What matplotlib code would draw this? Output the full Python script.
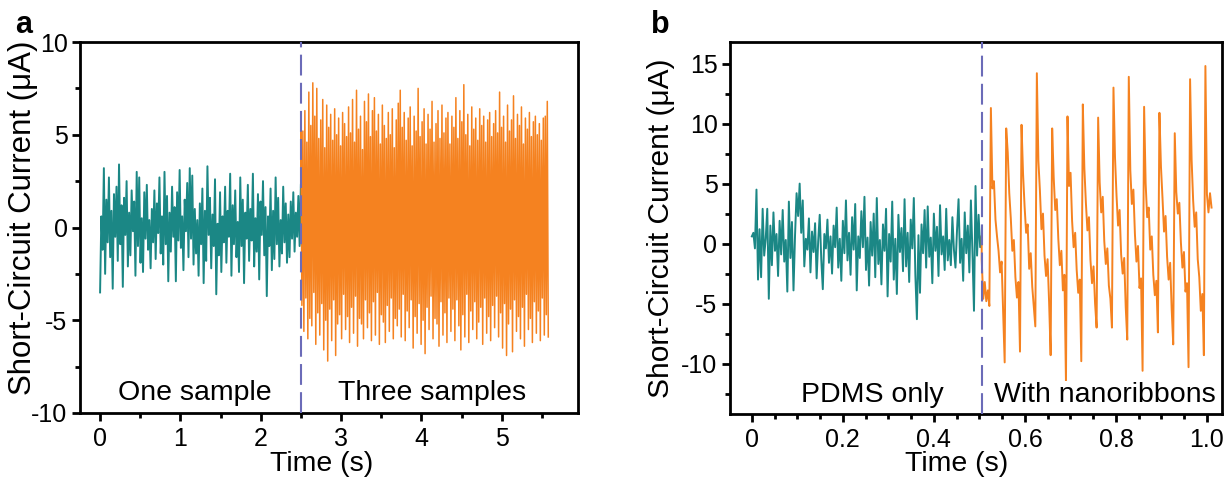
"""
Short-circuit current traces: (a) one vs three samples, (b) PDMS vs nanoribbons.
Writes out.png (1230x479).
"""
import numpy as np
import matplotlib

matplotlib.use("Agg")
import matplotlib.pyplot as plt
from matplotlib.ticker import MultipleLocator


# ---------------------------------------------------------------------------
# Data (uA)
# ---------------------------------------------------------------------------

# panel a, 0 - 2.5 s
A_ONE = [
    -3.5, 0.6, -1.2, 3.2, -2.5, 1.5, -0.8, 2.7, -1.6, 0.9,
    -3.3, 1.8, -0.5, 2.2, -1.8, 3.4, -0.9, 1.2, -3.2, 1.6,
    -0.4, 2.5, -2.1, 0.8, -1.5, 2.0, -0.2, 1.4, -2.6, 3.0,
    -1.0, 2.7, -1.9, 0.5, -2.4, 1.9, -0.6, 2.3, -1.2, 0.4,
    -2.2, 1.0, -0.8, 2.0, -1.7, 1.3, -0.3, 2.7, -1.4, 0.6,
    -2.0, 3.0, -0.9, 1.7, -2.9, 0.8, -1.3, 2.2, -0.5, 1.1,
    -2.9, 1.9, -0.7, 3.1, -1.1, 0.6, -2.3, 1.5, -0.2, 2.4,
    -1.6, 3.2, -0.6, 2.8, -2.0, 1.0, -1.4, 0.4, -2.6, 1.3,
    -0.9, 2.1, -3.0, 0.9, -1.8, 3.3, -0.4, 1.6, -2.2, 0.7,
    -1.0, 2.6, -3.6, 0.2, -1.5, 1.9, -2.4, 0.6, -0.8, 2.2,
    -1.9, 0.9, -0.5, 2.9, -2.6, 1.2, -0.9, 2.0, -1.6, 0.3,
    -2.4, 2.7, -1.0, 1.5, -3.0, 0.8, -0.6, 2.3, -1.8, 1.0,
    -0.7, 2.9, -2.1, 0.5, -1.3, 1.8, -2.8, 1.4, -0.4, 2.5,
    -1.5, 1.1, -3.7, 0.6, -1.0, 2.1, -2.3, 0.9, -1.7, 2.7,
    -0.9, 1.6, -2.1, 0.4, -1.4, 2.2, -0.8, 1.3, -1.9, 0.7,
    -1.6, 1.4, -0.6, 1.9, -1.3, 0.8, -0.5, 1.7, -1.0, 2.3,
]

# panel a, 2.5 - 5.58 s: alternating peaks and troughs
A_THREE_PEAKS = [
    6.1, 5.2, 6.3, 4.6, 7.3, 5.5, 7.8, 6.0, 7.5, 4.8, 5.8, 6.9, 4.3, 6.6, 5.4, 6.1, 4.7, 6.4, 5.0, 5.9, 4.4, 6.2, 5.6, 4.9, 6.5,
    5.1, 6.9, 4.6, 7.4, 5.3, 6.0, 4.2, 6.8, 5.7, 7.2, 4.9, 6.3, 7.0, 5.2, 6.1, 4.5, 6.6, 5.5, 4.8, 6.2, 5.0, 6.4, 4.3, 5.8, 6.7,
    7.4, 5.4, 6.2, 4.7, 5.9, 6.5, 4.4, 6.0, 5.2, 7.5, 4.9, 5.7, 6.4, 4.5, 6.1, 5.3, 6.8, 4.6, 5.6, 6.3, 4.8, 6.6, 5.1, 5.9, 6.2,
    4.5, 6.0, 5.4, 7.0, 4.8, 6.3, 5.7, 7.7, 5.0, 6.1, 4.4, 6.5, 5.3, 5.9, 4.7, 6.4, 5.5, 6.0, 4.6, 5.8, 6.2, 4.9, 5.6, 6.3, 5.1,
    7.3, 5.4, 6.0, 4.6, 6.6, 5.2, 5.8, 7.1, 4.8, 6.1, 5.5, 6.5, 4.5, 5.9, 5.3, 6.2, 4.9, 5.7, 6.0, 5.0, 5.6, 4.7, 5.9, 6.0, 6.8,
]
A_THREE_TROUGHS = [
    -4.2, -5.6, -3.8, -6.0, -4.9, -5.3, -3.5, -6.3, -4.6, -5.8, -4.1, -6.6, -5.0, -7.2, -4.4, -6.1, -3.9, -6.9, -5.2, -4.7, -6.0, -3.6, -5.5, -4.8, -6.2,
    -4.3, -5.7, -3.7, -6.4, -4.9, -5.2, -6.0, -3.9, -5.4, -4.6, -6.1, -4.0, -5.8, -3.5, -6.3, -4.7, -5.1, -6.2, -4.2, -5.6, -3.8, -6.0, -4.9, -5.3, -4.4,
    -5.9, -3.6, -6.1, -4.5, -5.4, -3.9, -6.5, -4.8, -5.7, -4.1, -6.3, -5.0, -6.8, -4.3, -5.5, -3.7, -6.0, -4.9, -5.2, -6.4, -4.0, -5.8, -4.6, -6.2, -3.8,
    -5.6, -4.4, -6.1, -3.9, -5.3, -6.6, -4.7, -5.9, -3.6, -6.2, -4.5, -5.5, -4.0, -6.0, -5.1, -4.3, -6.3, -3.8, -5.7, -4.8, -6.1, -4.2, -5.4, -3.7, -5.9,
    -4.6, -6.5, -4.1, -6.9, -5.2, -4.4, -6.7, -3.9, -5.6, -4.8, -6.0, -4.3, -6.4, -3.6, -5.5, -4.9, -6.2, -4.0, -5.7, -4.5, -6.1, -3.8, -5.8, -4.7, -5.9,
]

# panel b, 0 - 0.505 s
B_PDMS = [
    0.6, 0.9, -0.4, 4.5, -3.0, 1.2, -2.8, 2.9, -1.0, 0.4,
    2.9, -4.6, 1.5, -1.8, 2.6, -0.6, 0.8, -2.7, 1.9, -0.9,
    2.8, -1.5, 0.3, -4.0, 3.5, -1.2, 1.8, -3.9, 0.7, 4.2,
    2.3, 5.0, 0.9, 3.6, -1.9, 0.4, -0.5, 2.1, -2.4, 1.0,
    -0.7, 1.7, -2.9, 0.2, 2.4, -1.3, -3.8, 0.8, -0.4, 2.0,
    -1.6, 0.6, -2.5, 1.5, -0.3, 3.0, -2.0, 0.4, -3.1, 1.9,
    -0.8, 3.6, -1.4, 0.9, -2.6, 2.2, -0.5, 3.3, -3.9, 0.6,
    -1.2, 2.7, -0.3, 3.9, -2.2, 0.5, -3.5, 1.8, -1.0, 2.5,
    -2.8, 3.8, -1.7, 0.3, -3.4, 1.6, -0.6, 2.9, -4.4, 0.8,
    -1.5, 3.5, -3.0, 0.4, -4.2, 2.4, -0.7, 1.3, -2.3, 3.7,
    -1.9, 0.9, -3.2, 2.0, -0.4, 3.8, -2.6, -6.3, 0.7, -4.1,
    1.6, -0.8, 2.8, -2.0, 3.1, -1.1, 0.5, -3.3, 2.5, -0.6,
    1.4, -2.7, 3.2, -0.9, 0.6, -2.2, 2.9, -1.4, 0.3, -1.8,
    2.2, -0.5, -2.0, 1.1, 3.7, -1.6, 0.4, -3.1, 2.6, -0.8,
    1.5, -2.4, 3.6, -0.7, -5.6, 4.8, -1.0, 2.4, -0.3, 0.6,
]

# panel b, 0.505 - 1.01 s
B_NANO = [
    -1.3, -4.6, -3.2, -4.8, -3.9, -5.2,
    11.3, 4.6, 5.2, 2.0, 0.6, -0.6, -2.4, -1.5, -5.8, -9.9,
    9.6, 7.6, 4.2, 2.1, -0.6, 0.3, -2.8, -4.5, -3.2, -9.0,
    9.9, 5.8, 3.1, 0.9, 1.6, -2.1, -0.8, -3.6, -5.2, -6.9,
    14.2, 6.9, 4.4, 1.2, 2.5, -1.0, -2.7, -1.3, -4.9, -9.3,
    9.6, 5.5, 2.8, 3.7, 0.4, -1.8, -0.6, -3.9, -2.6, -11.6,
    10.6, 4.8, 5.9, 1.9, -0.3, 0.9, -2.2, -4.1, -3.0, -9.8,
    11.6, 6.3, 3.4, 1.1, 2.2, -1.4, -3.3, -1.9, -5.0, -7.0,
    10.5, 5.1, 2.6, 3.9, 0.2, -1.7, -0.4, -3.5, -4.6, -7.0,
    13.0, 7.2, 4.0, 1.5, 2.8, -0.9, -2.5, -1.2, -5.3, -8.0,
    13.9, 6.1, 3.3, 4.5, 0.8, -1.5, -0.2, -3.7, -2.9, -10.6,
    11.4, 5.0, 2.2, 3.0, -0.5, 0.6, -2.6, -4.3, -3.1, -7.4,
    10.9, 6.4, 3.8, 1.0, 2.3, -1.1, -3.0, -1.6, -5.5, -8.4,
    9.2, 4.3, 2.5, 3.4, 0.1, -2.0, -0.7, -4.0, -3.3, -10.3,
    13.7, 7.0, 3.6, 1.4, 2.6, -1.3, -2.8, -5.6, -4.2, -9.3,
    14.8, 4.1, 2.6, 4.2, 3.0,
]

A_SPLIT, A_END = 2.5, 5.58
B_SPLIT, B_END = 0.505, 1.01

TEAL = "#1b8785"
ORANGE = "#f58220"
DASH = "#6b6bb8"

plt.rcParams["font.family"] = ["Liberation Sans", "DejaVu Sans"]
plt.rcParams["axes.unicode_minus"] = False


# ---------------------------------------------------------------------------
# Helpers
# ---------------------------------------------------------------------------

def _interleave(peaks, troughs):
    out = np.empty(len(peaks) + len(troughs))
    out[0::2] = peaks
    out[1::2] = troughs
    return out


def _style(ax):
    for sp in ax.spines.values():
        sp.set_linewidth(2.0)
    ax.tick_params(which="both", direction="out", width=2.0, labelsize=18,
                   top=False, right=False)
    ax.tick_params(which="major", length=6)
    ax.tick_params(which="minor", length=3.5)
    ax.tick_params(axis="x", pad=4)
    ax.tick_params(axis="y", pad=3)


def _vline(ax, x):
    ax.axvline(x, color=DASH, lw=1.5, dashes=(10, 3.5), zorder=3)


# ---------------------------------------------------------------------------
# Figure
# ---------------------------------------------------------------------------

fig = plt.figure(figsize=(12.3, 4.79), dpi=100)
ax_a = fig.add_axes([80 / 1230, 66 / 479, 498 / 1230, 371 / 479])
ax_b = fig.add_axes([730 / 1230, 65 / 479, 492 / 1230, 372 / 479])

# ---- panel a ----
ya1 = np.array(A_ONE)
ta1 = np.linspace(0, A_SPLIT, len(ya1))
ya2 = _interleave(A_THREE_PEAKS, A_THREE_TROUGHS)
ta2 = np.linspace(A_SPLIT, A_END, len(ya2))
ax_a.plot(ta1, ya1, color=TEAL, lw=1.4)
ax_a.plot(np.r_[ta1[-1], ta2], np.r_[ya1[-1], ya2], color=ORANGE, lw=1.1)
_vline(ax_a, A_SPLIT)

ax_a.set_xlim(-0.25, 5.95)
ax_a.set_ylim(-10, 10)
ax_a.xaxis.set_major_locator(MultipleLocator(1))
ax_a.xaxis.set_minor_locator(MultipleLocator(0.5))
ax_a.yaxis.set_major_locator(MultipleLocator(5))
ax_a.yaxis.set_minor_locator(MultipleLocator(2.5))
_style(ax_a)
ax_a.set_xlabel("Time (s)", fontsize=20.5)
ax_a.set_ylabel("Short-Circuit Current (\u03bcA)", fontsize=22.5)
ax_a.xaxis.set_label_coords(0.486, -0.103)
ax_a.yaxis.set_label_coords(-0.084, 0.527)
ax_a.text(1.18, -9.3, "One sample", fontsize=20.5, ha="center", va="baseline")
ax_a.text(4.13, -9.3, "Three samples", fontsize=20.5, ha="center", va="baseline")

# ---- panel b ----
yb1 = np.array(B_PDMS)
tb1 = np.linspace(0, B_SPLIT, len(yb1))
yb2 = np.array(B_NANO)
tb2 = np.linspace(B_SPLIT, B_END, len(yb2))
ax_b.plot(tb1, yb1, color=TEAL, lw=1.4)
ax_b.plot(np.r_[tb1[-1], tb2], np.r_[yb1[-1], yb2], color=ORANGE, lw=1.4)
_vline(ax_b, B_SPLIT)

ax_b.set_xlim(-0.048, 1.033)
ax_b.set_ylim(-14.2, 16.8)
ax_b.xaxis.set_major_locator(MultipleLocator(0.2))
ax_b.xaxis.set_minor_locator(MultipleLocator(0.05))
ax_b.yaxis.set_major_locator(MultipleLocator(5))
ax_b.yaxis.set_minor_locator(MultipleLocator(2.5))
ax_b.xaxis.set_major_formatter(lambda v, p: "0" if abs(v) < 1e-9 else f"{v:.1f}")
_style(ax_b)
ax_b.set_xlabel("Time (s)", fontsize=20.5)
ax_b.set_ylabel("Short-Circuit Current (\u03bcA)", fontsize=21.5)
ax_b.xaxis.set_label_coords(0.461, -0.100)
ax_b.yaxis.set_label_coords(-0.112, 0.5)
ax_b.text(0.264, -13.2, "PDMS only", fontsize=20.5, ha="center", va="baseline")
ax_b.text(0.776, -13.2, "With nanoribbons", fontsize=20.5, ha="center", va="baseline",
          bbox=dict(facecolor="white", edgecolor="none", pad=0.5), zorder=4)

# panel letters
fig.text(15 / 1230, 1 - 33 / 479, "a", fontsize=22, fontweight="bold")
fig.text(651 / 1230, 1 - 33 / 479, "b", fontsize=22, fontweight="bold")

fig.savefig("out.png", dpi=100)
